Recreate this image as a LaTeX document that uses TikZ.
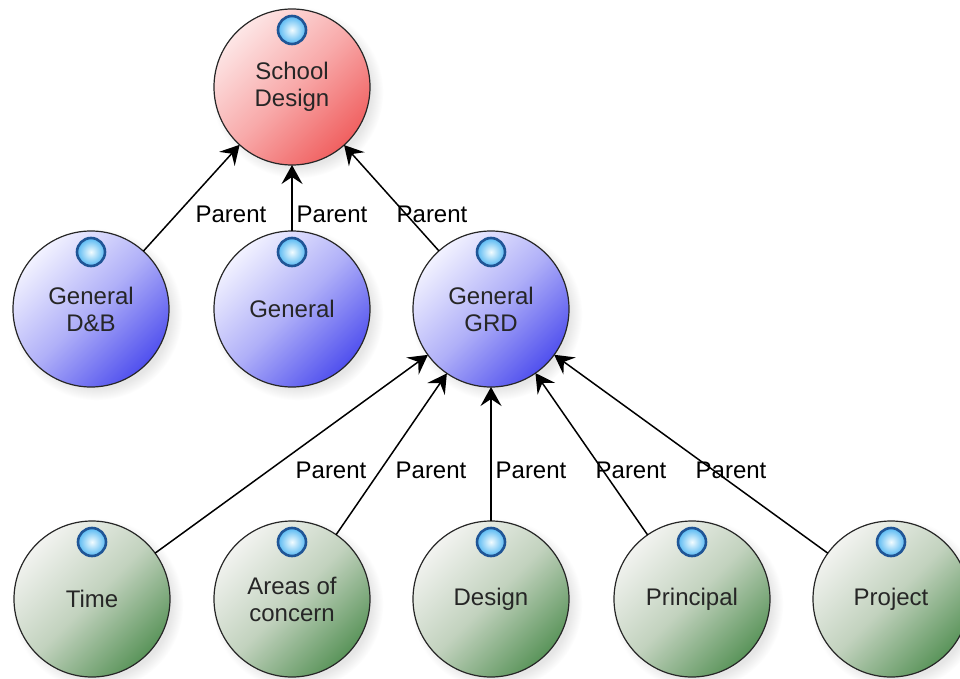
\documentclass[tikz,border=0pt]{standalone}
\usepackage{fontspec}
\setmainfont{Liberation Sans}
\usetikzlibrary{arrows.meta,shadows}
\definecolor{redL}{HTML}{FDE6E6}
\definecolor{redM}{HTML}{F8AAAA}
\definecolor{redD}{HTML}{F06060}
\definecolor{bluL}{HTML}{F2F2FF}
\definecolor{bluM}{HTML}{B0B0F8}
\definecolor{bluD}{HTML}{5050EE}
\definecolor{grnL}{HTML}{F2F3F0}
\definecolor{grnM}{HTML}{C2D2BE}
\definecolor{grnD}{HTML}{5A945A}
\definecolor{icoIn}{HTML}{F2FCFF}
\definecolor{icoOut}{HTML}{56B8F2}
\definecolor{icoRim}{HTML}{1F5596}
\tikzset{
  circ/.style={circle, draw=black!85, line width=1.2pt, minimum size=156pt,
    inner sep=0pt, outer sep=0pt, align=center,
    font=\fontsize{24}{27}\selectfont, text=black!85,
    circular drop shadow={shadow xshift=5pt, shadow yshift=-5pt, opacity=0.2}},
  rednode/.style={circ, top color=redL, bottom color=redD, middle color=redM, shading angle=45},
  blunode/.style={circ, top color=bluL, bottom color=bluD, middle color=bluM, shading angle=45},
  grnnode/.style={circ, top color=grnL, bottom color=grnD, middle color=grnM, shading angle=45},
  icon/.style={circle, minimum size=28pt, inner sep=0pt, draw=icoRim, line width=2.6pt,
    inner color=icoIn, outer color=icoOut},
  edgeline/.style={draw=black, line width=1.5pt, -{Stealth[length=19pt,width=21pt,inset=7pt]}},
  lbl/.style={font=\fontsize{24}{26}\selectfont, anchor=base, inner sep=0pt}
}
\begin{document}
\begin{tikzpicture}[x=1pt,y=1pt]
\useasboundingbox (0,0) rectangle (960,-679);
\clip (0,0) rectangle (960,-679);
% nodes
\node[rednode] (sd) at (292,-87) {School\\Design};
\node[blunode] (dnb) at (91,-309) {General\\D\&B};
\node[blunode] (gen) at (292,-309) {General};
\node[blunode] (grd) at (491,-309) {General\\GRD};
\node[grnnode] (time) at (92,-599) {Time};
\node[grnnode] (aoc) at (292,-599) {Areas of\\concern};
\node[grnnode] (des) at (491,-599) {Design};
\node[grnnode] (pri) at (692,-599) {Principal};
\node[grnnode] (prj) at (891,-599) {Project};
% icons
\foreach \n in {sd,dnb,gen,grd,time,aoc,des,pri,prj}
  \node[icon] (\n-ico) at ([yshift=-21pt]\n.north) {};
% edges
\draw[edgeline] (dnb) -- (sd);
\draw[edgeline] (gen) -- (sd);
\draw[edgeline] (grd) -- (sd);
\draw[edgeline] (time) -- (grd);
\draw[edgeline] (aoc) -- (grd);
\draw[edgeline] (des) -- (grd);
\draw[edgeline] (pri) -- (grd);
\draw[edgeline] (prj) -- (grd);
% labels
\node[lbl] (l1) at (231,-222) {Parent};
\node[lbl] (l2) at (332,-222) {Parent};
\node[lbl] (l3) at (432,-222) {Parent};
\node[lbl] (l4) at (331,-478) {Parent};
\node[lbl] (l5) at (431,-478) {Parent};
\node[lbl] (l6) at (531,-478) {Parent};
\node[lbl] (l7) at (631,-478) {Parent};
\node[lbl] (l8) at (731,-478) {Parent};
\end{tikzpicture}
\end{document}
